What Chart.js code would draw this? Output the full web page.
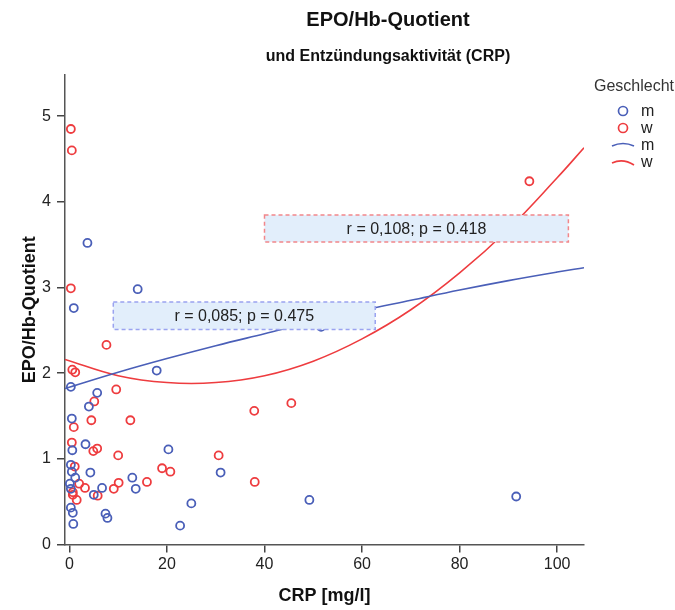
<!DOCTYPE html>
<html>
<head>
<meta charset="utf-8">
<script src="https://cdn.jsdelivr.net/npm/chart.js@4.4.0/dist/chart.umd.min.js"></script>
<style>
  html, body { margin: 0; padding: 0; background: #fff; }
</style>
</head>
<body>
<canvas id="myChart" width="675" height="610"></canvas>
<script>
// CRP [mg/l] und EPO/Hb-Quotient, männlich
const crpM = [3.7, 14.0, 0.9, 51.6, 17.9, 0.3, 5.7, 4.0, 0.5, 3.3, 0.6, 20.3, 0.3, 0.5, 4.3, 31.0,
              1.2, 12.9, 0.1, 0.3, 6.7, 13.6, 5.0, 49.2, 91.6, 25.0, 0.3, 0.7, 7.4, 7.8, 0.8, 22.7];
const epoM = [3.52, 2.98, 2.76, 2.54, 2.03, 1.84, 1.77, 1.61, 1.47, 1.17, 1.10, 1.11, 0.93, 0.85, 0.84, 0.84,
              0.78, 0.78, 0.71, 0.65, 0.66, 0.65, 0.58, 0.52, 0.56, 0.48, 0.43, 0.37, 0.36, 0.31, 0.24, 0.22];
// weiblich
const crpW = [0.3, 0.5, 0.3, 94.3, 7.6, 0.6, 1.2, 9.6, 5.1, 4.5, 12.5, 0.9, 37.9, 45.5, 0.5, 4.9,
              5.7, 10.0, 30.6, 1.1, 19.0, 20.7, 38.0, 15.9, 10.1, 2.0, 3.2, 9.1, 0.7, 0.7, 5.8, 1.5];
const epoW = [4.85, 4.60, 2.99, 4.24, 2.33, 2.04, 2.01, 1.81, 1.67, 1.45, 1.45, 1.37, 1.56, 1.65, 1.19, 1.09,
              1.12, 1.04, 1.04, 0.91, 0.89, 0.85, 0.73, 0.73, 0.72, 0.71, 0.66, 0.65, 0.61, 0.58, 0.57, 0.52];

// Anpassungslinien
const fitX = [-0.9, 10, 20, 30, 40, 50, 60, 70, 80, 90, 100, 105.5];
const fitM = [1.82, 2.01, 2.17, 2.32, 2.46, 2.60, 2.73, 2.85, 2.97, 3.08, 3.18, 3.23];
const fitW = [2.16, 1.97, 1.89, 1.89, 1.97, 2.14, 2.40, 2.74, 3.17, 3.68, 4.28, 4.63];

const gruppen = ['m', 'w'];
const statText = ['r = 0,085; p = 0.475', 'r = 0,108; p = 0.418'];

const blau = '#4a5fb8';
const rot = '#ee3c3f';
const fontName = '"Liberation Sans", Arial, sans-serif';

function pts(xs, ys) {
    return xs.map((x, i) => ({ x: x, y: ys[i] }));
}

const extras = {
    id: 'extras',
    afterDatasetsDraw(chart) {
        const ctx = chart.ctx;
        const x = chart.scales.x, y = chart.scales.y;
        const boxes = [
            { x0: 9.0, x1: 62.7, y0: 2.83, y1: 2.51, border: '#9aa3f0', text: statText[0] },
            { x0: 40.0, x1: 102.3, y0: 3.845, y1: 3.53, border: '#f2868a', text: statText[1] }
        ];
        ctx.save();
        boxes.forEach(b => {
            const l = x.getPixelForValue(b.x0), r = x.getPixelForValue(b.x1);
            const t = y.getPixelForValue(b.y0), btm = y.getPixelForValue(b.y1);
            ctx.fillStyle = '#e2eefb';
            ctx.fillRect(l, t, r - l, btm - t);
            ctx.setLineDash([4, 3]);
            ctx.lineWidth = 1.5;
            ctx.strokeStyle = b.border;
            ctx.strokeRect(l, t, r - l, btm - t);
            ctx.setLineDash([]);
            ctx.fillStyle = '#222';
            ctx.font = '16px ' + fontName;
            ctx.textAlign = 'center';
            ctx.textBaseline = 'middle';
            ctx.fillText(b.text, (l + r) / 2, (t + btm) / 2 + 1);
        });
        ctx.restore();
    },
    afterDraw(chart) {
        const ctx = chart.ctx;
        ctx.save();
        ctx.fillStyle = '#111';
        ctx.textAlign = 'center';
        ctx.textBaseline = 'middle';
        ctx.font = 'bold 20px ' + fontName;
        ctx.fillText('EPO/Hb-Quotient', 388, 20);
        ctx.font = 'bold 16px ' + fontName;
        ctx.fillText('und Entzündungsaktivität (CRP)', 388, 57);

        // Legende
        ctx.textAlign = 'left';
        ctx.fillStyle = '#333';
        ctx.font = '16px ' + fontName;
        ctx.fillText('Geschlecht', 594, 87);
        const farben = [blau, rot];
        gruppen.forEach((g, i) => {
            const cy = 111 + i * 17;
            ctx.beginPath();
            ctx.arc(623, cy, 4.5, 0, Math.PI * 2);
            ctx.lineWidth = 1.7;
            ctx.strokeStyle = farben[i];
            ctx.stroke();
            ctx.fillStyle = '#222';
            ctx.fillText(g, 641, cy + 1);
        });
        gruppen.forEach((g, i) => {
            const cy = 145 + i * 17;
            ctx.beginPath();
            ctx.moveTo(612, cy + 1);
            if (i === 0) ctx.quadraticCurveTo(623, cy - 4, 634, cy + 1);
            else ctx.quadraticCurveTo(623, cy - 4, 634, cy + 3);
            ctx.lineWidth = 1.7;
            ctx.strokeStyle = farben[i];
            ctx.stroke();
            ctx.fillStyle = '#222';
            ctx.fillText(g, 641, cy + 1);
        });
        ctx.restore();
    }
};

const ctx = document.getElementById('myChart').getContext('2d');
const chart = new Chart(ctx, {
    type: 'scatter',
    data: {
        datasets: [
            { label: 'm', data: pts(crpM, epoM), pointRadius: 4, pointBorderWidth: 1.8,
              borderColor: blau, backgroundColor: 'rgba(0,0,0,0)', pointHoverRadius: 4 },
            { label: 'w', data: pts(crpW, epoW), pointRadius: 4, pointBorderWidth: 1.8,
              borderColor: rot, backgroundColor: 'rgba(0,0,0,0)', pointHoverRadius: 4 },
            { label: 'm', data: pts(fitX, fitM), showLine: true, pointRadius: 0, borderWidth: 1.6,
              borderColor: blau, tension: 0.4 },
            { label: 'w', data: pts(fitX, fitW), showLine: true, pointRadius: 0, borderWidth: 1.6,
              borderColor: rot, tension: 0.4 }
        ]
    },
    options: {
        responsive: false,
        animation: false,
        layout: { padding: { left: 0, right: 91, top: 75, bottom: 0 } },
        plugins: {
            legend: { display: false },
            tooltip: { enabled: false }
        },
        scales: {
            x: {
                type: 'linear',
                min: -0.9,
                max: 105.5,
                afterFit: s => { s.height = 65.5; },
                border: { color: '#555', width: 1.5 },
                grid: { drawOnChartArea: false, drawTicks: true, tickLength: 8, color: '#444', lineWidth: 1.5 },
                ticks: { stepSize: 20, includeBounds: false, padding: 2, color: '#222',
                         font: { family: fontName, size: 16 } },
                title: { display: true, text: 'CRP [mg/l]', color: '#111',
                         font: { family: fontName, size: 18, weight: 'bold' }, padding: { top: 0, bottom: 3 } }
            },
            y: {
                type: 'linear',
                min: 0,
                max: 5.48,
                afterFit: s => { s.width = 65; },
                border: { color: '#555', width: 1.5 },
                grid: { drawOnChartArea: false, drawTicks: true, tickLength: 8, color: '#444', lineWidth: 1.5 },
                ticks: { stepSize: 1, includeBounds: false, padding: 6, color: '#222',
                         font: { family: fontName, size: 16 } },
                title: { display: true, text: 'EPO/Hb-Quotient', color: '#111',
                         font: { family: fontName, size: 18, weight: 'bold' }, padding: { top: 19, bottom: 0 } }
            }
        }
    },
    plugins: [extras]
});
</script>
</body>
</html>
